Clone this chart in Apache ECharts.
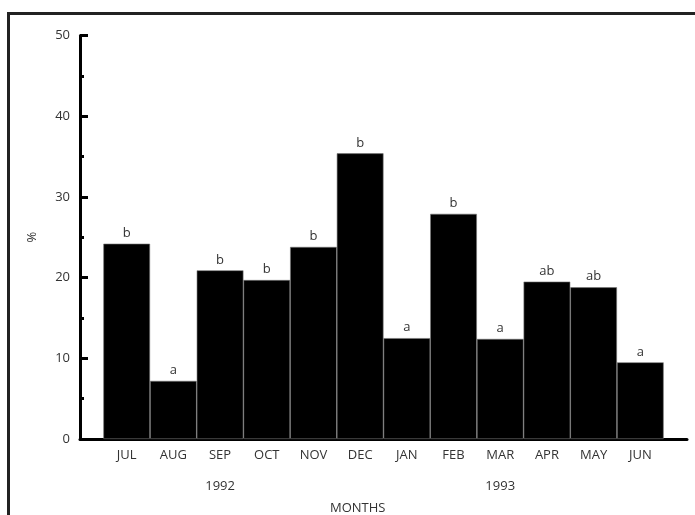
<!DOCTYPE html>
<html>
<head>
<meta charset="utf-8">
<script src="https://cdn.jsdelivr.net/npm/echarts@6/dist/echarts.min.js"></script>
<style>
  html, body { margin: 0; padding: 0; background: #fff; }
  #chart { width: 695px; height: 515px; }
</style>
</head>
<body>
<div id="chart"></div>
<script>
// Monthly percentages, July 1992 – June 1993, with significance letters
const months = ['JUL', 'AUG', 'SEP', 'OCT', 'NOV', 'DEC', 'JAN', 'FEB', 'MAR', 'APR', 'MAY', 'JUN'];
const percent = [24.2, 7.2, 20.9, 19.7, 23.8, 35.4, 12.5, 27.9, 12.4, 19.5, 18.8, 9.5];
const letters = ['b', 'a', 'b', 'b', 'b', 'b', 'a', 'b', 'a', 'ab', 'ab', 'a'];
const yearLabels = { 2: '1992', 8: '1993' };
const yTicks = [0, 10, 20, 30, 40, 50];

const FONT = '"Open Sans", "DejaVu Sans", sans-serif';
const TEXT = '#333';

const chart = echarts.init(document.getElementById('chart'), null, { renderer: 'canvas' });

const gridLeft = 80, gridRight = 8, gridTop = 35.5, gridBottom = 76;
const xMin = -1, xMax = 12;
const plotW = chart.getWidth() - gridLeft - gridRight;
const barW = plotW / (xMax - xMin);

const barData = percent.map((v, i) => [i, v]);

chart.setOption({
  backgroundColor: '#fff',
  animation: false,
  grid: { left: gridLeft, right: gridRight, top: gridTop, bottom: gridBottom },
  xAxis: [
    {
      type: 'value',
      min: xMin,
      max: xMax,
      interval: 1,
      splitLine: { show: false },
      axisTick: { show: false },
      axisLine: { show: true, onZero: true, lineStyle: { color: '#000', width: 3 } },
      axisLabel: {
        margin: 10,
        color: TEXT,
        fontFamily: FONT,
        fontSize: 13,
        showMinLabel: true,
        showMaxLabel: true,
        formatter: v => (months[v] !== undefined ? months[v] : '')
      }
    },
    {
      type: 'value',
      position: 'bottom',
      min: xMin,
      max: xMax,
      interval: 1,
      splitLine: { show: false },
      axisTick: { show: false },
      axisLine: { show: false },
      axisLabel: {
        margin: 41,
        color: TEXT,
        fontFamily: FONT,
        fontSize: 13,
        formatter: v => yearLabels[v] || ''
      }
    }
  ],
  yAxis: {
    type: 'value',
    min: 0,
    max: 50,
    interval: 10,
    name: '%',
    nameLocation: 'middle',
    nameRotate: 90,
    nameGap: 41,
    nameTextStyle: { color: TEXT, fontFamily: FONT, fontSize: 13 },
    splitLine: { show: false },
    axisLine: { show: true, onZero: false, lineStyle: { color: '#000', width: 3 } },
    axisTick: { show: true, inside: true, length: 8, lineStyle: { color: '#000', width: 3 } },
    minorTick: { show: true, splitNumber: 2, length: 4, lineStyle: { color: '#000', width: 3 } },
    axisLabel: {
      margin: 10,
      color: TEXT,
      fontFamily: FONT,
      fontSize: 13,
      formatter: v => (yTicks.includes(v) ? String(v) : '')
    }
  },
  series: [
    {
      type: 'bar',
      xAxisIndex: 0,
      data: barData,
      barWidth: barW,
      itemStyle: { color: '#000', borderColor: '#777', borderWidth: 0.6 },
      label: {
        show: true,
        position: 'top',
        distance: 4,
        color: TEXT,
        fontFamily: FONT,
        fontSize: 13,
        formatter: p => letters[p.dataIndex]
      }
    }
  ],
  graphic: [
    {
      type: 'polyline',
      shape: { points: [[8.5, 515], [8.5, 13.5], [695, 13.5]] },
      style: { stroke: '#222', lineWidth: 3, fill: null }
    },
    {
      type: 'text',
      left: 330,
      top: 502,
      style: { text: 'MONTHS', fill: TEXT, font: '13px ' + FONT }
    }
  ]
});
</script>
</body>
</html>
